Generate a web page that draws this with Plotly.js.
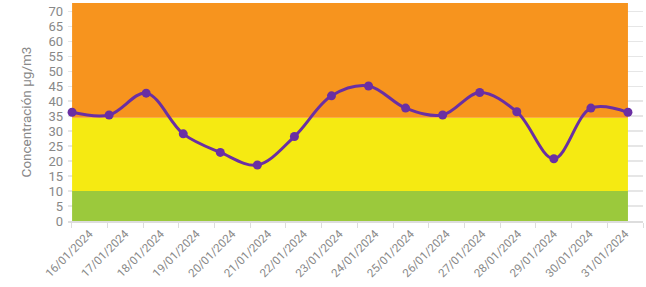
<!DOCTYPE html>
<html>
<head>
<meta charset="utf-8">
<script src="https://cdn.plot.ly/plotly-3.0.1.min.js"></script>
<style>html,body{margin:0;padding:0;background:#fff;}#chart{width:646px;height:287px;}</style>
</head>
<body>
<div id="chart"></div>
<script>
var dates = ["16/01/2024","17/01/2024","18/01/2024","19/01/2024","20/01/2024","21/01/2024","22/01/2024","23/01/2024","24/01/2024","25/01/2024","26/01/2024","27/01/2024","28/01/2024","29/01/2024","30/01/2024","31/01/2024"];
var concentration = [36.3,35.4,42.7,29.1,22.9,18.7,28.2,41.8,45.1,37.7,35.4,42.9,36.5,20.8,37.7,36.3];
var bandLows = [0,10,34.5];
var bandHighs = [10,34.5,80];
var bandColors = ["#9BC93C","#F5EA12","#F7941E"];
var yTicks = [0,5,10,15,20,25,30,35,40,45,50,55,60,65,70];

var idx = dates.map(function(d,i){return i;});
var last = dates.length-1;

var traces = [
  {x:dates, y:concentration.map(function(){return null;}), xaxis:"x", yaxis:"y", type:"scatter", mode:"lines", showlegend:false, hoverinfo:"skip"}
];
bandLows.forEach(function(lo,i){
  var hi = bandHighs[i];
  traces.push({x:[0,last,last,0,0], y:[lo,lo,hi,hi,lo], xaxis:"x2", yaxis:"y", type:"scatter", mode:"lines",
    fill:"toself", fillcolor:bandColors[i], line:{width:0, color:bandColors[i]}, showlegend:false, hoverinfo:"skip"});
});
traces.push({x:idx, y:concentration, xaxis:"x2", yaxis:"y", type:"scatter", mode:"lines+markers",
   line:{color:"#6A2FA3", width:3, shape:"spline", smoothing:1},
   marker:{color:"#6A2FA3", size:9}, showlegend:false, cliponaxis:false});

var layout = {
  width:646, height:287,
  margin:{l:68, r:3, t:3, b:65.5},
  paper_bgcolor:"#fff", plot_bgcolor:"#fff",
  font:{family:"Roboto, 'Open Sans', sans-serif", color:"#888"},
  xaxis:{type:"category", range:[-0.6,15.5], tickangle:-45, tickson:"boundaries",
         ticks:"outside", ticklen:5, tickcolor:"#dddddd", showgrid:false, zeroline:false,
         showline:true, linecolor:"#dddddd", linewidth:1.5,
         tickfont:{size:11.5, color:"#888"}, fixedrange:true},
  xaxis2:{overlaying:"x", range:[-0.11,15.406], showgrid:false, zeroline:false,
          showticklabels:false, ticks:"", showline:false},
  yaxis:{range:[0,72.8], tickvals:yTicks, ticktext:yTicks.map(String),
         showgrid:true, gridcolor:"#e6e6e6", gridwidth:1.5, zeroline:false,
         tickfont:{size:13, color:"#888"}, ticklabelstandoff:4,
         title:{text:"Concentración µg/m3", font:{size:13.5, color:"#888"}, standoff:13}}
};

Plotly.newPlot("chart", traces, layout, {displayModeBar:false, staticPlot:true});
</script>
</body>
</html>
